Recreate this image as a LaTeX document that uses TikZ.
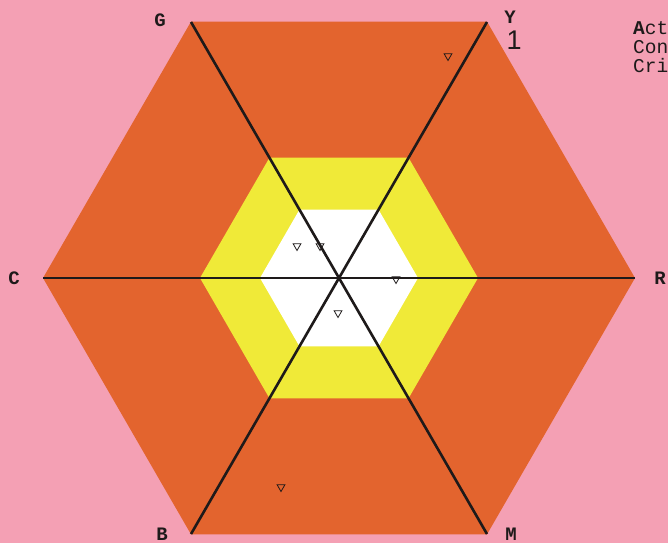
\documentclass[tikz,border=0pt]{standalone}
\usepackage{fontspec}
\setmainfont{Liberation Sans}
\setmonofont{Liberation Mono}
\usetikzlibrary{shapes.geometric}

\definecolor{bgpink}{RGB}{244,160,180}
\definecolor{hexorange}{RGB}{227,100,46}
\definecolor{hexyellow}{RGB}{240,234,56}
\definecolor{spokeblack}{RGB}{30,26,26}

\begin{document}
\begin{tikzpicture}[x=1pt, y=-1pt,
    vertex/.style={font=\ttfamily\bfseries\fontsize{19}{19}\selectfont, text=spokeblack, inner sep=0},
    legend/.style={font=\ttfamily\fontsize{19.5}{19.5}\selectfont, text=spokeblack, anchor=west, inner sep=0},
    spoke/.style={draw=spokeblack, line width=2.6pt},
    marker/.style={regular polygon, regular polygon sides=3, shape border rotate=180,
        draw=spokeblack, line width=0.8pt, minimum size=9pt, inner sep=0}
]
    % background and page size
    \fill[bgpink] (0,0) rectangle (668,543);
    \useasboundingbox (0,0) rectangle (668,543);

    % hexagon corners
    \coordinate (O) at (339,278);
    \coordinate (G) at (191,22);
    \coordinate (Y) at (487,22);
    \coordinate (R) at (635,278);
    \coordinate (M) at (487,534);
    \coordinate (B) at (191,534);
    \coordinate (C) at (43,278);

    % rings
    \foreach \r/\col in {296/hexorange, 139/hexyellow, 79/white}
        \fill[\col, shift={(O)}] (0:\r) -- (60:\r) -- (120:\r) -- (180:\r) -- (240:\r) -- (300:\r) -- cycle;

    \draw[spoke] (G) -- (M);
    \draw[spoke] (Y) -- (B);
    \draw[spoke] (C) -- (R);

    % corner labels
    \node[vertex] (lg) at (160,20) {G};
    \node[vertex] (ly) at (510,17) {Y};
    \node[font=\fontsize{27}{27}\selectfont, text=spokeblack, inner sep=0] (one) at (514,40) {1};
    \node[vertex] (lc) at (14,278) {C};
    \node[vertex] (lr) at (660,278) {R};
    \node[vertex] (lb) at (162,534) {B};
    \node[vertex] (lm) at (511,534) {M};
    \node[vertex] (lc2) at (674,521) {C};

    % legend, cut by the page edge
    \node[legend] (act) at (633,28) {\textbf{A}ct};
    \node[legend] (con) at (633,47) {Con};
    \node[legend] (cri) at (633,66) {Cri};

    % markers
    \node[marker] (t1) at (448,56) {};
    \node[marker] (t2) at (297,246) {};
    \node[marker] (t3) at (320,246) {};
    \node[marker] (t4) at (396,279) {};
    \node[marker] (t5) at (338,313) {};
    \node[marker] (t6) at (281,487) {};
\end{tikzpicture}
\end{document}
